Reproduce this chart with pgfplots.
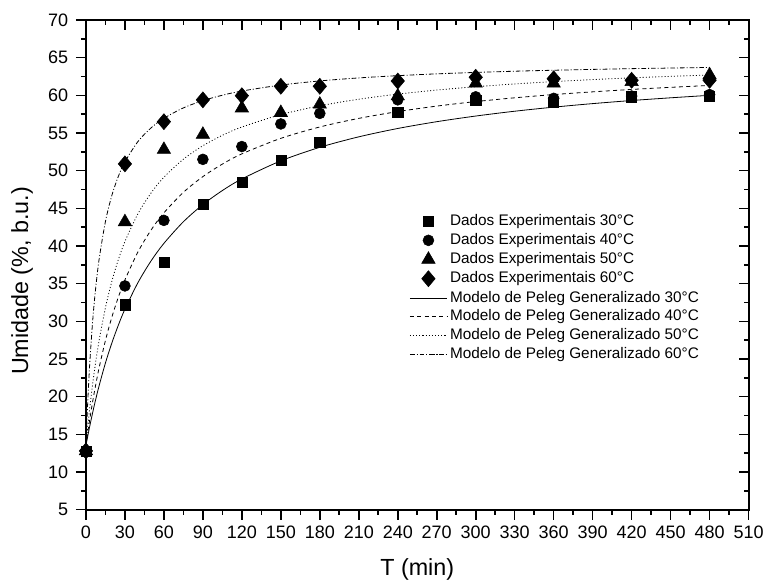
\documentclass[border=0pt]{standalone}
\usepackage{fontspec}
\setmainfont{Liberation Sans}
\usepackage{pgfplots}
\pgfplotsset{compat=1.18}
\newcommand{\tickfont}{\fontsize{13.5}{16}\selectfont}
\pgfplotsset{
  myleg/.style={legend image code/.code={\draw[mark repeat=2,mark phase=2,##1] plot coordinates {(0cm,0cm) (0.49cm,0cm) (0.98cm,0cm)};}},
  common/.style={
    scale only axis, width=497.25pt, height=367.5pt,
    xmin=0, xmax=510, ymin=5, ymax=70,
    xtick={0,30,...,510}, ytick={5,10,...,70},
    minor x tick num=1, minor y tick num=1,
    axis line style={line width=1.5pt},
    major tick length=7.5pt, minor tick length=3.75pt,
    tick style={black, line width=1.2pt},
  },
}
\begin{document}
\begin{tikzpicture}
\begin{axis}[common,
  xtick pos=lower, ytick pos=left, tick align=outside,
  /pgf/number format/assume math mode=true,
  xticklabel={\tickfont\pgfmathprintnumber{\tick}},
  yticklabel={\tickfont\pgfmathprintnumber{\tick}},
  xticklabel style={yshift=-1pt},
  yticklabel style={xshift=-2.4pt},
  xlabel={T (min)}, ylabel={Umidade (\%, b.u.)},
  label style={font=\fontsize{17.5}{18}\selectfont},
  xlabel style={at={(axis description cs:0.5,-0.1224)}, anchor=center},
  ylabel style={at={(axis description cs:-0.0965,0.467)}, anchor=center, rotate=0},
  myleg,
  legend cell align=left,
  legend style={at={(axis cs:249,44.2)}, anchor=north west, draw=none, fill=none,
    inner sep=0pt, outer sep=0pt, font=\fontsize{11.5}{13}\selectfont,
    row sep=3pt, column sep=2pt,
    nodes={inner sep=0pt, text height=8.5pt, text depth=2.5pt}},
  clip=false,
]
\coordinate (sw) at (rel axis cs:0,0);
\coordinate (ne) at (rel axis cs:1,1);
\addplot[only marks, mark=square*, mark size=3.8pt, black, myleg] coordinates {
(0,12.8) (30,32.2) (60,37.8) (90,45.5) (120,48.5) (150,51.4) (180,53.8) (240,57.8) (300,59.3) (360,59.1) (420,59.8) (480,59.9)};
\addlegendentry{Dados Experimentais 30°C}
\addplot[only marks, mark=*, mark size=4.1pt, black, myleg] coordinates {
(0,12.8) (30,34.7) (60,43.4) (90,51.5) (120,53.2) (150,56.2) (180,57.6) (240,59.4) (300,59.8) (360,59.6) (420,59.9) (480,60.1)};
\addlegendentry{Dados Experimentais 40°C}
\addplot[only marks, mark=triangle*, mark size=5.8pt, black, myleg] coordinates {
(0,12.8) (30,43.2) (60,52.8) (90,54.8) (120,58.3) (150,57.7) (180,58.8) (240,59.9) (300,61.6) (360,61.6) (420,61.8) (480,62.7)};
\addlegendentry{Dados Experimentais 50°C}
\addplot[only marks, mark=diamond*, mark size=6pt, mark options={xscale=1.12}, black, myleg] coordinates {
(0,12.8) (30,50.9) (60,56.5) (90,59.4) (120,59.95) (150,61.2) (180,61.2) (240,61.9) (300,62.4) (360,62.2) (420,62.0) (480,62.0)};
\addlegendentry{Dados Experimentais 60°C}
\addplot[black, line width=0.6pt, solid, smooth] coordinates {
(0,13.5) (1,14.41) (2,15.29) (3,16.14) (5,17.75) (7,19.27) (10,21.36) (15,24.47) (20,27.16) (25,29.52) (30,31.61) (40,35.13) (50,37.99) (60,40.35) (75,43.22) (90,45.50) (105,47.36) (120,48.90) (150,51.30) (180,53.10) (210,54.49) (240,55.60) (270,56.50) (300,57.25) (330,57.89) (360,58.43) (390,58.90) (420,59.31) (450,59.67) (480,60.00)};
\addlegendentry{Modelo de Peleg Generalizado 30°C}
\addplot[black, line width=0.6pt, dash pattern=on 3pt off 2.5pt, smooth] coordinates {
(0,13.5) (1,14.74) (2,15.93) (3,17.06) (5,19.17) (7,21.11) (10,23.73) (15,27.46) (20,30.59) (25,33.23) (30,35.50) (40,39.20) (50,42.09) (60,44.40) (75,47.12) (90,49.21) (105,50.87) (120,52.23) (150,54.29) (180,55.80) (210,56.94) (240,57.84) (270,58.57) (300,59.17) (330,59.67) (360,60.10) (390,60.46) (420,60.78) (450,61.06) (480,61.31)};
\addlegendentry{Modelo de Peleg Generalizado 40°C}
\addplot[black, line width=0.6pt, dash pattern=on 0.75pt off 1.6pt, smooth] coordinates {
(0,13.5) (1,15.32) (2,17.01) (3,18.60) (5,21.47) (7,24.02) (10,27.33) (15,31.81) (20,35.35) (25,38.22) (30,40.59) (40,44.27) (50,47.01) (60,49.13) (75,51.52) (90,53.31) (105,54.69) (120,55.79) (150,57.44) (180,58.61) (210,59.48) (240,60.16) (270,60.70) (300,61.14) (330,61.51) (360,61.82) (390,62.09) (420,62.32) (450,62.52) (480,62.70)};
\addlegendentry{Modelo de Peleg Generalizado 50°C}
\addplot[black, line width=0.6pt, dash pattern=on 3.5pt off 1.5pt on 0.75pt off 1.5pt, smooth] coordinates {
(0,13.5) (1,17.82) (2,21.47) (3,24.59) (5,29.66) (7,33.59) (10,38.08) (15,43.25) (20,46.75) (25,49.27) (30,51.17) (40,53.86) (50,55.66) (60,56.95) (75,58.33) (90,59.30) (105,60.01) (120,60.57) (150,61.36) (180,61.91) (210,62.31) (240,62.61) (270,62.85) (300,63.04) (330,63.20) (360,63.33) (390,63.44) (420,63.54) (450,63.62) (480,63.70)};
\addlegendentry{Modelo de Peleg Generalizado 60°C}
\end{axis}
\begin{axis}[common,
  xtick pos=upper, ytick pos=right, tick align=inside,
  xticklabels={}, yticklabels={},
]
\end{axis}
\path ([shift={(-64.5pt,-58.5pt)}]sw) rectangle ([shift={(14.25pt,15pt)}]ne);
\end{tikzpicture}
\end{document}
